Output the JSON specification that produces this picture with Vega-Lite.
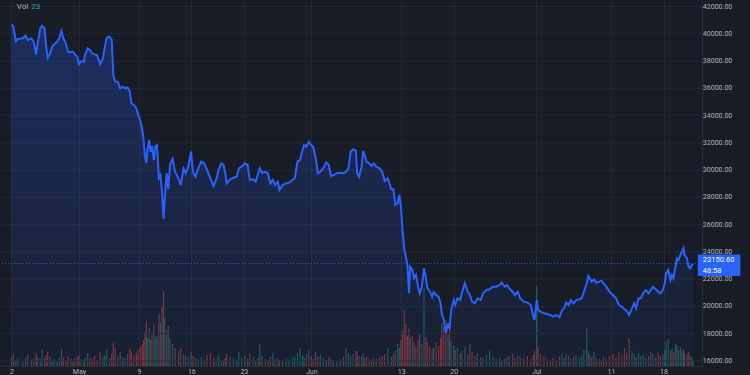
{
  "$schema": "https://vega.github.io/schema/vega-lite/v6.json",
  "width": 702,
  "height": 366,
  "autosize": {"type": "none"},
  "padding": {"left": 0, "top": 0, "right": 48, "bottom": 9},
  "background": "#181c27",
  "config": {
    "view": {"stroke": null},
    "font": "Roboto",
    "axis": {"labelFont": "Roboto", "labelColor": "#b2b5be", "labelFontSize": 7, "gridColor": "#242833", "ticks": false, "title": null, "domainColor": "#2a2e39", "labelOverlap": false}
  },
  "datasets": {
    "btc": [
      {"t":"2022-04-22T00:00","p":40680,"v":900},{"t":"2022-04-22T06:00","p":40520,"v":1200},{"t":"2022-04-22T14:00","p":39470,"v":600},{"t":"2022-04-22T21:00","p":39620,"v":700},
      {"t":"2022-04-23T12:00","p":39670,"v":500},{"t":"2022-04-23T21:00","p":39860,"v":800},{"t":"2022-04-24T04:00","p":39540,"v":1100},{"t":"2022-04-24T16:00","p":39670,"v":600},
      {"t":"2022-04-24T23:00","p":39420,"v":700},{"t":"2022-04-25T07:00","p":38490,"v":1300},{"t":"2022-04-25T11:00","p":39180,"v":900},{"t":"2022-04-25T20:00","p":40400,"v":700},
      {"t":"2022-04-26T02:00","p":40590,"v":1600},{"t":"2022-04-26T10:00","p":40400,"v":800},{"t":"2022-04-26T15:00","p":39050,"v":1100},{"t":"2022-04-26T20:00","p":38250,"v":1400},
      {"t":"2022-04-27T04:00","p":38570,"v":900},{"t":"2022-04-27T10:00","p":39050,"v":600},{"t":"2022-04-27T17:00","p":39230,"v":700},{"t":"2022-04-28T02:00","p":39420,"v":500},
      {"t":"2022-04-28T09:00","p":39670,"v":800},{"t":"2022-04-28T16:00","p":40200,"v":1700},{"t":"2022-04-28T22:00","p":39670,"v":900},{"t":"2022-04-29T06:00","p":39300,"v":600},
      {"t":"2022-04-29T13:00","p":38690,"v":1000},{"t":"2022-04-29T22:00","p":38640,"v":700},{"t":"2022-04-30T05:00","p":38690,"v":500},{"t":"2022-04-30T11:00","p":38490,"v":800},
      {"t":"2022-04-30T19:00","p":38320,"v":900},{"t":"2022-05-01T00:00","p":37760,"v":1100},{"t":"2022-05-01T07:00","p":38000,"v":700},{"t":"2022-05-01T16:00","p":37950,"v":600},
      {"t":"2022-05-01T19:00","p":38440,"v":900},{"t":"2022-05-02T04:00","p":38930,"v":1300},{"t":"2022-05-02T11:00","p":38810,"v":800},{"t":"2022-05-02T18:00","p":38570,"v":700},
      {"t":"2022-05-03T02:00","p":38490,"v":1000},{"t":"2022-05-03T10:00","p":38440,"v":600},{"t":"2022-05-03T20:00","p":37760,"v":1400},{"t":"2022-05-04T05:00","p":38200,"v":900},
      {"t":"2022-05-04T10:00","p":38930,"v":1100},{"t":"2022-05-04T17:00","p":39710,"v":1600},{"t":"2022-05-05T02:00","p":39790,"v":800},{"t":"2022-05-05T09:00","p":39540,"v":1200},
      {"t":"2022-05-05T14:00","p":36980,"v":2300},{"t":"2022-05-05T20:00","p":36490,"v":1800},{"t":"2022-05-06T04:00","p":36490,"v":1000},{"t":"2022-05-06T12:00","p":36000,"v":1400},
      {"t":"2022-05-06T20:00","p":36120,"v":900},{"t":"2022-05-07T03:00","p":36000,"v":800},{"t":"2022-05-07T12:00","p":36070,"v":1200},{"t":"2022-05-07T19:00","p":35750,"v":1700},
      {"t":"2022-05-08T00:00","p":34900,"v":1500},{"t":"2022-05-08T08:00","p":34780,"v":1100},{"t":"2022-05-08T16:00","p":34530,"v":1300},{"t":"2022-05-08T21:00","p":34090,"v":1600},
      {"t":"2022-05-09T05:00","p":33600,"v":1900},{"t":"2022-05-09T11:00","p":32940,"v":2200},{"t":"2022-05-09T15:00","p":32210,"v":2600},{"t":"2022-05-09T19:00","p":31110,"v":3400},
      {"t":"2022-05-10T00:00","p":30520,"v":4500},{"t":"2022-05-10T03:00","p":31480,"v":2800},{"t":"2022-05-10T09:00","p":32210,"v":3800},{"t":"2022-05-10T13:00","p":31330,"v":2600},
      {"t":"2022-05-10T18:00","p":31770,"v":3200},{"t":"2022-05-11T00:00","p":30740,"v":4200},{"t":"2022-05-11T05:00","p":31770,"v":2900},{"t":"2022-05-11T10:00","p":31840,"v":3000},
      {"t":"2022-05-11T16:00","p":29420,"v":5200},{"t":"2022-05-11T21:00","p":29640,"v":4400},{"t":"2022-05-12T02:00","p":28470,"v":6000},{"t":"2022-05-12T07:00","p":26420,"v":7500},
      {"t":"2022-05-12T11:00","p":28030,"v":4800},{"t":"2022-05-12T17:00","p":29790,"v":3600},{"t":"2022-05-12T22:00","p":28620,"v":4000},{"t":"2022-05-13T04:00","p":30450,"v":2700},
      {"t":"2022-05-13T12:00","p":30820,"v":2200},{"t":"2022-05-13T20:00","p":29860,"v":1800},{"t":"2022-05-14T07:00","p":29400,"v":1500},{"t":"2022-05-14T14:00","p":28910,"v":1800},
      {"t":"2022-05-14T23:00","p":30130,"v":1200},{"t":"2022-05-15T06:00","p":29770,"v":1000},{"t":"2022-05-15T14:00","p":30250,"v":900},{"t":"2022-05-15T23:00","p":31350,"v":1400},
      {"t":"2022-05-16T05:00","p":29880,"v":1000},{"t":"2022-05-16T13:00","p":29520,"v":800},{"t":"2022-05-16T22:00","p":30130,"v":700},{"t":"2022-05-17T08:00","p":30620,"v":900},
      {"t":"2022-05-17T17:00","p":30500,"v":600},{"t":"2022-05-18T02:00","p":30010,"v":1100},{"t":"2022-05-18T13:00","p":29400,"v":1300},{"t":"2022-05-18T23:00","p":28840,"v":800},
      {"t":"2022-05-19T07:00","p":29280,"v":700},{"t":"2022-05-19T15:00","p":30010,"v":1000},{"t":"2022-05-20T00:00","p":30500,"v":600},{"t":"2022-05-20T07:00","p":30380,"v":500},
      {"t":"2022-05-20T12:00","p":29880,"v":800},{"t":"2022-05-20T17:00","p":29030,"v":1200},{"t":"2022-05-21T04:00","p":29330,"v":900},{"t":"2022-05-21T15:00","p":29440,"v":700},
      {"t":"2022-05-22T01:00","p":29520,"v":600},{"t":"2022-05-22T08:00","p":30130,"v":1400},{"t":"2022-05-22T17:00","p":30250,"v":800},{"t":"2022-05-23T03:00","p":30500,"v":1000},
      {"t":"2022-05-23T12:00","p":30380,"v":700},{"t":"2022-05-23T19:00","p":29280,"v":1200},{"t":"2022-05-24T06:00","p":29330,"v":900},{"t":"2022-05-24T14:00","p":29150,"v":600},
      {"t":"2022-05-24T22:00","p":29770,"v":800},{"t":"2022-05-25T03:00","p":30130,"v":2200},{"t":"2022-05-25T10:00","p":29810,"v":1000},{"t":"2022-05-25T21:00","p":29880,"v":700},
      {"t":"2022-05-26T05:00","p":29770,"v":600},{"t":"2022-05-26T13:00","p":29030,"v":900},{"t":"2022-05-26T21:00","p":29280,"v":1300},{"t":"2022-05-27T04:00","p":28910,"v":700},
      {"t":"2022-05-27T13:00","p":29150,"v":800},{"t":"2022-05-27T18:00","p":28540,"v":600},{"t":"2022-05-28T04:00","p":28910,"v":500},{"t":"2022-05-28T15:00","p":29030,"v":700},
      {"t":"2022-05-29T01:00","p":29080,"v":600},{"t":"2022-05-29T12:00","p":29280,"v":800},{"t":"2022-05-29T19:00","p":29400,"v":900},{"t":"2022-05-30T04:00","p":30620,"v":1300},
      {"t":"2022-05-30T12:00","p":30740,"v":1800},{"t":"2022-05-30T20:00","p":31480,"v":1100},{"t":"2022-05-31T01:00","p":31840,"v":900},{"t":"2022-05-31T08:00","p":31720,"v":1200},
      {"t":"2022-05-31T16:00","p":32080,"v":1600},{"t":"2022-06-01T00:00","p":31840,"v":1000},{"t":"2022-06-01T06:00","p":31720,"v":700},{"t":"2022-06-01T14:00","p":30870,"v":1400},
      {"t":"2022-06-01T21:00","p":29770,"v":900},{"t":"2022-06-02T05:00","p":29880,"v":1100},{"t":"2022-06-02T14:00","p":30130,"v":800},{"t":"2022-06-03T00:00","p":30570,"v":600},
      {"t":"2022-06-03T08:00","p":30380,"v":900},{"t":"2022-06-03T15:00","p":29570,"v":700},{"t":"2022-06-03T23:00","p":29640,"v":600},{"t":"2022-06-04T10:00","p":29770,"v":500},
      {"t":"2022-06-04T21:00","p":29810,"v":700},{"t":"2022-06-05T07:00","p":29770,"v":900},{"t":"2022-06-05T15:00","p":29880,"v":1800},{"t":"2022-06-05T23:00","p":30130,"v":1300},
      {"t":"2022-06-06T06:00","p":31350,"v":1000},{"t":"2022-06-06T14:00","p":31530,"v":1200},{"t":"2022-06-06T23:00","p":31420,"v":1500},{"t":"2022-06-07T03:00","p":29770,"v":1500},
      {"t":"2022-06-07T09:00","p":29520,"v":1000},{"t":"2022-06-07T17:00","p":30250,"v":900},{"t":"2022-06-07T22:00","p":31420,"v":1300},{"t":"2022-06-08T03:00","p":31110,"v":800},
      {"t":"2022-06-08T09:00","p":30620,"v":900},{"t":"2022-06-08T17:00","p":30500,"v":700},{"t":"2022-06-09T01:00","p":30300,"v":600},{"t":"2022-06-09T08:00","p":30500,"v":800},
      {"t":"2022-06-09T16:00","p":30250,"v":700},{"t":"2022-06-10T03:00","p":30130,"v":900},{"t":"2022-06-10T11:00","p":29880,"v":1000},{"t":"2022-06-10T19:00","p":29200,"v":1200},
      {"t":"2022-06-11T05:00","p":29400,"v":1800},{"t":"2022-06-11T16:00","p":28590,"v":900},{"t":"2022-06-11T23:00","p":28590,"v":1300},{"t":"2022-06-12T05:00","p":27440,"v":1500},
      {"t":"2022-06-12T13:00","p":27570,"v":2200},{"t":"2022-06-12T18:00","p":28180,"v":1800},{"t":"2022-06-12T23:00","p":27320,"v":2600},{"t":"2022-06-13T04:00","p":25610,"v":3500},
      {"t":"2022-06-13T10:00","p":24140,"v":5600},{"t":"2022-06-13T15:00","p":23650,"v":4200},{"t":"2022-06-13T20:00","p":23040,"v":3000},{"t":"2022-06-14T01:00","p":20970,"v":3800},
      {"t":"2022-06-14T05:00","p":22920,"v":2800},{"t":"2022-06-14T12:00","p":22680,"v":3000},{"t":"2022-06-14T17:00","p":22070,"v":2400},{"t":"2022-06-14T23:00","p":22310,"v":2000},
      {"t":"2022-06-15T06:00","p":21450,"v":2600},{"t":"2022-06-15T11:00","p":20970,"v":3200},{"t":"2022-06-15T18:00","p":21450,"v":2200},{"t":"2022-06-16T01:00","p":22800,"v":7800},
      {"t":"2022-06-16T07:00","p":22070,"v":2900},{"t":"2022-06-16T12:00","p":21330,"v":2400},{"t":"2022-06-16T19:00","p":21140,"v":2000},{"t":"2022-06-17T03:00","p":20700,"v":1700},
      {"t":"2022-06-17T08:00","p":21060,"v":1900},{"t":"2022-06-17T16:00","p":20840,"v":2300},{"t":"2022-06-18T00:00","p":20700,"v":2000},{"t":"2022-06-18T06:00","p":20230,"v":2800},
      {"t":"2022-06-18T10:00","p":19450,"v":4300},{"t":"2022-06-18T16:00","p":19080,"v":3900},{"t":"2022-06-18T23:00","p":18060,"v":4600},{"t":"2022-06-19T06:00","p":18770,"v":3300},
      {"t":"2022-06-19T11:00","p":18350,"v":3900},{"t":"2022-06-19T16:00","p":19740,"v":2500},{"t":"2022-06-20T00:00","p":20470,"v":2000},{"t":"2022-06-20T05:00","p":20110,"v":1600},
      {"t":"2022-06-20T12:00","p":20600,"v":1800},{"t":"2022-06-20T21:00","p":20470,"v":1300},{"t":"2022-06-21T02:00","p":20970,"v":1500},{"t":"2022-06-21T12:00","p":21700,"v":1900},
      {"t":"2022-06-21T21:00","p":21080,"v":1200},{"t":"2022-06-22T04:00","p":20840,"v":2200},{"t":"2022-06-22T11:00","p":20350,"v":1400},{"t":"2022-06-22T20:00","p":20230,"v":1000},
      {"t":"2022-06-23T04:00","p":20600,"v":1300},{"t":"2022-06-23T15:00","p":20470,"v":900},{"t":"2022-06-23T22:00","p":20970,"v":800},{"t":"2022-06-24T09:00","p":21210,"v":1100},
      {"t":"2022-06-24T19:00","p":21260,"v":1500},{"t":"2022-06-25T06:00","p":21450,"v":900},{"t":"2022-06-25T16:00","p":21450,"v":700},{"t":"2022-06-26T03:00","p":21570,"v":800},
      {"t":"2022-06-26T10:00","p":21770,"v":600},{"t":"2022-06-26T19:00","p":21450,"v":700},{"t":"2022-06-27T03:00","p":21570,"v":900},{"t":"2022-06-27T10:00","p":21330,"v":1000},
      {"t":"2022-06-27T21:00","p":21080,"v":1200},{"t":"2022-06-28T04:00","p":20840,"v":800},{"t":"2022-06-28T13:00","p":21080,"v":1100},{"t":"2022-06-28T21:00","p":20600,"v":900},
      {"t":"2022-06-29T08:00","p":20350,"v":800},{"t":"2022-06-29T20:00","p":20280,"v":1000},{"t":"2022-06-30T07:00","p":20110,"v":700},{"t":"2022-06-30T15:00","p":19250,"v":1100},
      {"t":"2022-06-30T19:00","p":19010,"v":1500},{"t":"2022-07-01T02:00","p":20470,"v":8000},{"t":"2022-07-01T06:00","p":19740,"v":1900},{"t":"2022-07-01T14:00","p":19620,"v":1200},
      {"t":"2022-07-02T01:00","p":19500,"v":1000},{"t":"2022-07-02T11:00","p":19450,"v":700},{"t":"2022-07-02T22:00","p":19370,"v":600},{"t":"2022-07-03T06:00","p":19250,"v":800},
      {"t":"2022-07-03T17:00","p":19370,"v":500},{"t":"2022-07-04T03:00","p":19210,"v":900},{"t":"2022-07-04T11:00","p":19740,"v":1300},{"t":"2022-07-04T18:00","p":19870,"v":800},
      {"t":"2022-07-05T00:00","p":20280,"v":1200},{"t":"2022-07-05T08:00","p":20110,"v":1000},{"t":"2022-07-05T15:00","p":20470,"v":700},{"t":"2022-07-06T00:00","p":20230,"v":900},
      {"t":"2022-07-06T08:00","p":20470,"v":1100},{"t":"2022-07-06T19:00","p":20530,"v":800},{"t":"2022-07-07T02:00","p":20600,"v":1000},{"t":"2022-07-07T09:00","p":21080,"v":1600},
      {"t":"2022-07-07T18:00","p":21700,"v":3800},{"t":"2022-07-07T23:00","p":22240,"v":1500},{"t":"2022-07-08T04:00","p":22070,"v":1200},{"t":"2022-07-08T10:00","p":21820,"v":900},
      {"t":"2022-07-08T17:00","p":21990,"v":1400},{"t":"2022-07-09T01:00","p":21740,"v":800},{"t":"2022-07-09T10:00","p":21820,"v":700},{"t":"2022-07-09T17:00","p":21890,"v":600},
      {"t":"2022-07-10T00:00","p":21700,"v":900},{"t":"2022-07-10T09:00","p":21450,"v":700},{"t":"2022-07-10T19:00","p":21080,"v":1000},{"t":"2022-07-11T06:00","p":20840,"v":1200},
      {"t":"2022-07-11T16:00","p":20600,"v":900},{"t":"2022-07-12T01:00","p":20110,"v":1400},{"t":"2022-07-12T11:00","p":19980,"v":1100},{"t":"2022-07-12T19:00","p":19790,"v":1800},
      {"t":"2022-07-13T02:00","p":19690,"v":1300},{"t":"2022-07-13T10:00","p":19370,"v":2800},{"t":"2022-07-13T19:00","p":19870,"v":1500},{"t":"2022-07-14T02:00","p":20230,"v":1200},
      {"t":"2022-07-14T08:00","p":19870,"v":900},{"t":"2022-07-14T16:00","p":20600,"v":1300},{"t":"2022-07-14T23:00","p":20600,"v":1000},{"t":"2022-07-15T07:00","p":20970,"v":1100},
      {"t":"2022-07-15T15:00","p":21210,"v":800},{"t":"2022-07-16T00:00","p":20970,"v":1000},{"t":"2022-07-16T07:00","p":21210,"v":1400},{"t":"2022-07-16T14:00","p":21450,"v":1200},
      {"t":"2022-07-16T23:00","p":21260,"v":900},{"t":"2022-07-17T07:00","p":21080,"v":1300},{"t":"2022-07-17T14:00","p":20970,"v":1000},{"t":"2022-07-17T22:00","p":21210,"v":1200},
      {"t":"2022-07-18T04:00","p":21700,"v":1600},{"t":"2022-07-18T08:00","p":22430,"v":2400},{"t":"2022-07-18T15:00","p":22680,"v":2700},{"t":"2022-07-18T22:00","p":21940,"v":1500},
      {"t":"2022-07-19T03:00","p":22310,"v":1800},{"t":"2022-07-19T08:00","p":22070,"v":1400},{"t":"2022-07-19T14:00","p":22920,"v":2200},{"t":"2022-07-19T19:00","p":23530,"v":2100},
      {"t":"2022-07-20T00:00","p":23410,"v":1600},{"t":"2022-07-20T06:00","p":23780,"v":1900},{"t":"2022-07-20T11:00","p":24020,"v":1500},{"t":"2022-07-20T16:00","p":24270,"v":1700},
      {"t":"2022-07-20T19:00","p":23780,"v":1300},{"t":"2022-07-21T03:00","p":23530,"v":1200},{"t":"2022-07-21T08:00","p":22920,"v":1400},{"t":"2022-07-21T13:00","p":22800,"v":1000},
      {"t":"2022-07-21T19:00","p":23050,"v":900},{"t":"2022-07-21T23:00","p":23150.6,"v":600}
    ],
    "yticks": [{"y":16000},{"y":18000},{"y":20000},{"y":22000},{"y":24000},{"y":26000},{"y":28000},{"y":30000},{"y":32000},{"y":34000},{"y":36000},{"y":38000},{"y":40000},{"y":42000}],
    "notes": [{"last": 23150.6, "clock": "48:58", "vol": "Vol", "volval": "23"}]
  },
  "layer": [
    {
      "data": {"name": "btc"},
      "transform": [{"window": [{"op": "lag", "field": "p", "as": "prev"}], "sort": [{"field": "t"}]}],
      "mark": {"type": "bar", "size": 1.2, "opacity": 0.45},
      "encoding": {
        "x": {"field": "t", "type": "temporal", "scale": {"domain": [{"year": 2022, "month": 4, "date": 21, "hours": 3, "minutes": 14}, {"year": 2022, "month": 7, "date": 22, "hours": 11, "minutes": 12}]},
          "axis": {"values": [{"year": 2022, "month": 4, "date": 22}, {"year": 2022, "month": 5, "date": 1}, {"year": 2022, "month": 5, "date": 9}, {"year": 2022, "month": 5, "date": 16}, {"year": 2022, "month": 5, "date": 23}, {"year": 2022, "month": 6, "date": 1}, {"year": 2022, "month": 6, "date": 13}, {"year": 2022, "month": 6, "date": 20}, {"year": 2022, "month": 7, "date": 1}, {"year": 2022, "month": 7, "date": 11}, {"year": 2022, "month": 7, "date": 18}],
            "labelExpr": "date(datum.value) == 1 ? timeFormat(datum.value, '%b') : (month(datum.value) == 3 ? '2' : timeFormat(datum.value, '%-d'))",
            "grid": true, "domain": true, "labelPadding": 1, "labelOverlap": false, "labelFlush": false, "labelBaseline": "top"}},
        "y": {"field": "v", "type": "quantitative", "scale": {"domain": [0, 36600], "nice": false}, "axis": null},
        "color": {"condition": {"test": "datum.prev == null || datum.p >= datum.prev", "value": "#26a69a"}, "value": "#ef5350"}
      }
    },
    {
      "layer": [
        {
          "data": {"name": "yticks"},
          "mark": {"type": "rule", "color": "#242833", "strokeWidth": 1},
          "encoding": {"y": {"field": "y", "type": "quantitative", "scale": {"domain": [15634, 42477], "nice": false, "zero": false}, "axis": {"orient": "right", "labels": false, "grid": false, "domain": true}}}
        },
        {
          "data": {"name": "btc"},
          "mark": {"type": "area", "line": false, "fill": {"gradient": "linear", "x1": 0, "y1": 0, "x2": 0, "y2": 1, "stops": [{"offset": 0, "color": "rgba(41,98,255,0.26)"}, {"offset": 1, "color": "rgba(41,98,255,0.04)"}]}},
          "encoding": {
            "x": {"field": "t", "type": "temporal"},
            "y": {"field": "p", "type": "quantitative"},
            "y2": {"datum": 15634}
          }
        },
        {
          "data": {"name": "btc"},
          "mark": {"type": "line", "color": "#2962ff", "strokeWidth": 2},
          "encoding": {
            "x": {"field": "t", "type": "temporal"},
            "y": {"field": "p", "type": "quantitative"}
          }
        },
        {
          "data": {"name": "notes"},
          "mark": {"type": "rule", "color": "#2962ff", "strokeDash": [1, 2], "strokeWidth": 1, "opacity": 0.8},
          "encoding": {"y": {"field": "last", "type": "quantitative"}}
        },
        {
          "data": {"name": "yticks"},
          "mark": {"type": "text", "color": "#b2b5be", "fontSize": 7, "align": "left", "baseline": "middle", "clip": false},
          "encoding": {
            "x": {"datum": {"year": 2022, "month": 7, "date": 23, "hours": 6}, "type": "temporal"},
            "y": {"field": "y", "type": "quantitative"},
            "text": {"field": "y", "format": ".2f"}
          }
        },
        {
          "data": {"name": "notes"},
          "mark": {"type": "rect", "color": "#2962ff", "clip": false, "cornerRadius": 1},
          "encoding": {
            "x": {"datum": {"year": 2022, "month": 7, "date": 22, "hours": 14}, "type": "temporal"},
            "x2": {"datum": {"year": 2022, "month": 7, "date": 28, "hours": 6}},
            "y": {"datum": 23812, "type": "quantitative"},
            "y2": {"datum": 22235}
          }
        },
        {
          "data": {"name": "notes"},
          "mark": {"type": "text", "color": "#ffffff", "fontSize": 7.5, "align": "left", "baseline": "middle", "clip": false},
          "encoding": {
            "x": {"datum": {"year": 2022, "month": 7, "date": 23, "hours": 6}, "type": "temporal"},
            "y": {"datum": 23372, "type": "quantitative"},
            "text": {"field": "last", "format": ".2f"}
          }
        },
        {
          "data": {"name": "notes"},
          "mark": {"type": "text", "color": "#ffffff", "fontSize": 7.5, "align": "left", "baseline": "middle", "clip": false},
          "encoding": {
            "x": {"datum": {"year": 2022, "month": 7, "date": 23, "hours": 6}, "type": "temporal"},
            "y": {"datum": 22638, "type": "quantitative"},
            "text": {"field": "clock"}
          }
        },
        {
          "data": {"name": "notes"},
          "mark": {"type": "text", "color": "#b2b5be", "fontSize": 8, "align": "left", "baseline": "middle"},
          "encoding": {
            "x": {"datum": {"year": 2022, "month": 4, "date": 22, "hours": 17}, "type": "temporal"},
            "y": {"datum": 42000, "type": "quantitative"},
            "text": {"field": "vol"}
          }
        },
        {
          "data": {"name": "notes"},
          "mark": {"type": "text", "color": "#26a69a", "fontSize": 8, "align": "left", "baseline": "middle"},
          "encoding": {
            "x": {"datum": {"year": 2022, "month": 4, "date": 24, "hours": 15}, "type": "temporal"},
            "y": {"datum": 42000, "type": "quantitative"},
            "text": {"field": "volval"}
          }
        }
      ]
    }
  ],
  "resolve": {"scale": {"y": "independent"}}
}
